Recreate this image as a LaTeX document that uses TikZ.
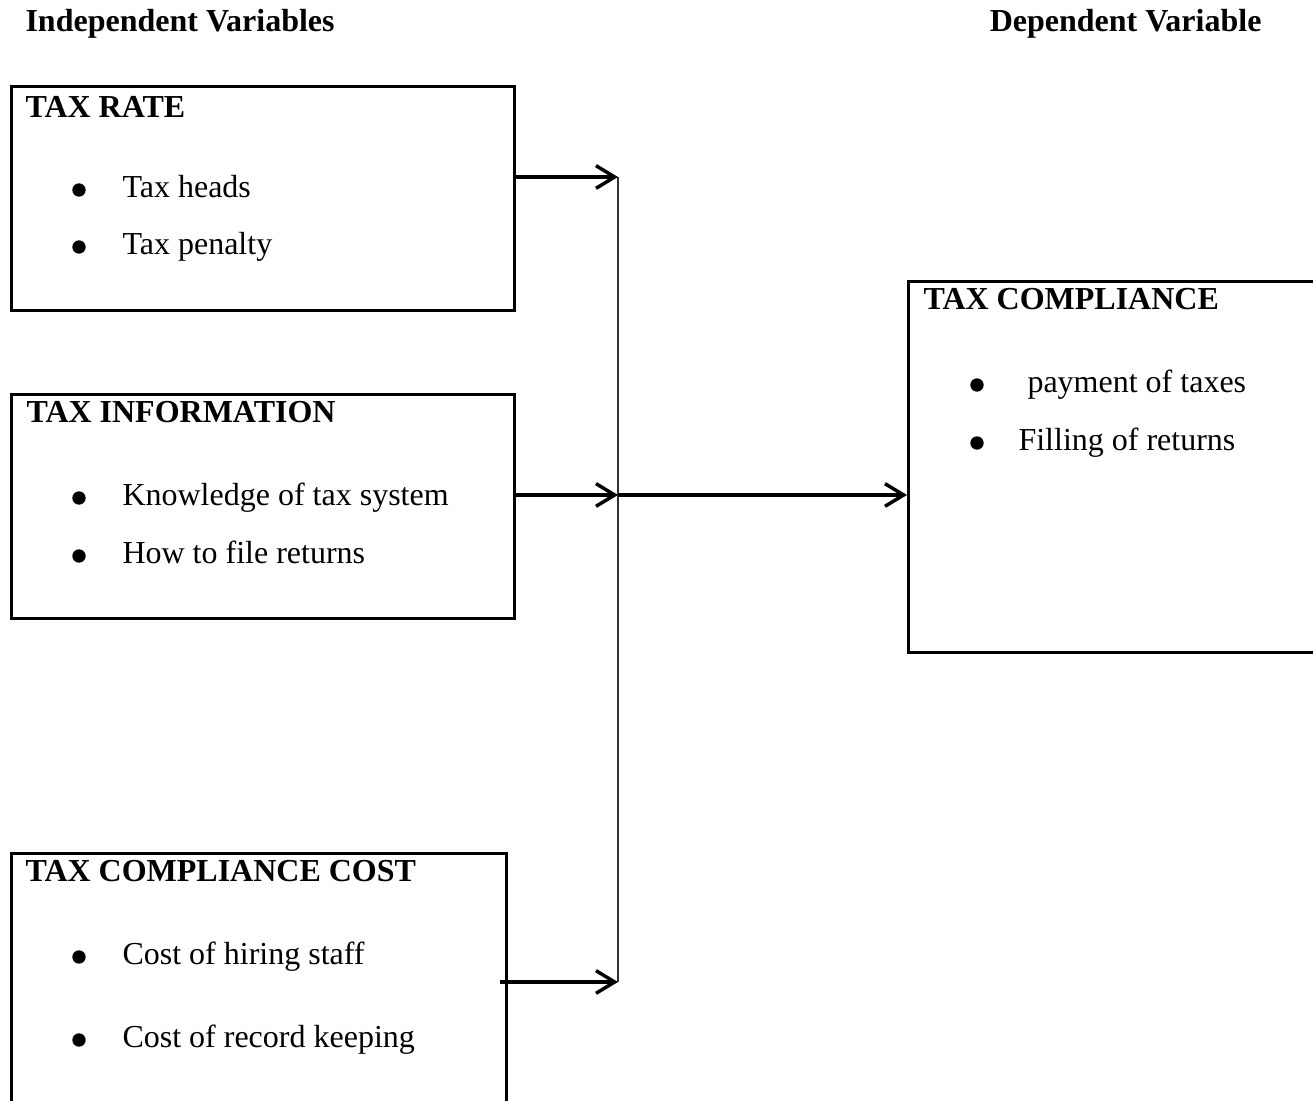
\documentclass[tikz,border=0pt]{standalone}
\usepackage{fontspec}
\setmainfont{Liberation Serif}
\usetikzlibrary{arrows.meta}

\begin{document}
\begin{tikzpicture}[x=0.375pt, y=-0.375pt, font=\fontsize{12}{14}\selectfont,
		box/.style = {draw, line width=1pt, anchor=north west, inner sep=0pt},
		head/.style = {anchor=base west, inner sep=0pt, font=\fontsize{12}{14}\selectfont\bfseries},
		item/.style = {anchor=base west, inner sep=0pt},
		dot/.style = {circle, fill, inner sep=0pt, minimum size=5pt},
		arr/.style = {-{Straight Barb[length=7pt, width=8.5pt]}, line width=1.3pt},
		trunk/.style = {line width=0.6pt, black!80}]
	\clip (0,0) rectangle (1313,1101);

	% column titles
	\node[head] (indep) at (25,32) {Independent Variables};
	\node[head, anchor=base east] (dep) at (1262,32) {Dependent Variable};

	% independent variable boxes
	\node[box, minimum width=188.6pt, minimum height=84pt] (rate) at (10,85) {};
	\node[head] (rateT) at (25,118) {TAX RATE};
	\node[dot] (b1) at (79,190) {};
	\node[item] (r1) at (122,198) {Tax heads};
	\node[dot] (b2) at (79,247) {};
	\node[item] (r2) at (122,255) {Tax penalty};

	\node[box, minimum width=188.6pt, minimum height=84pt] (info) at (10,393) {};
	\node[head] (infoT) at (26,423) {TAX INFORMATION};
	\node[dot] (b3) at (79,498) {};
	\node[item] (i1) at (122,506) {Knowledge of tax system};
	\node[dot] (b4) at (79,556) {};
	\node[item] (i2) at (122,564) {How to file returns};

	\node[box, minimum width=185.6pt, minimum height=105pt] (cost) at (10,852) {};
	\node[head] (costT) at (25,882) {TAX COMPLIANCE COST};
	\node[dot] (b5) at (79,957) {};
	\node[item] (c1) at (122,965) {Cost of hiring staff};
	\node[dot] (b6) at (79,1040) {};
	\node[item] (c2) at (122,1048) {Cost of record keeping};

	% dependent variable box
	\node[box, minimum width=161pt, minimum height=139.1pt] (comp) at (907,280) {};
	\node[head] (compT) at (923,310) {TAX COMPLIANCE};
	\node[dot] (b7) at (977,385) {};
	\node[item] (d1) at (1027,393) {payment of taxes};
	\node[dot] (b8) at (977,443) {};
	\node[item] (d2) at (1018,451) {Filling of returns};

	% connectors
	\coordinate (t1) at (618,177);
	\coordinate (t2) at (618,495);
	\coordinate (t3) at (618,982);
	\draw[trunk] (t1) -- (t3);
	\draw[arr] ([xshift=-1pt]rate.east |- t1) -- (t1);
	\draw[arr] ([xshift=-1pt]info.east |- t2) -- (t2);
	\draw[arr] ([xshift=-3pt]cost.east |- t3) -- (t3);
	\draw[arr] (t2) -- (comp.west |- t2);
\end{tikzpicture}
\end{document}
